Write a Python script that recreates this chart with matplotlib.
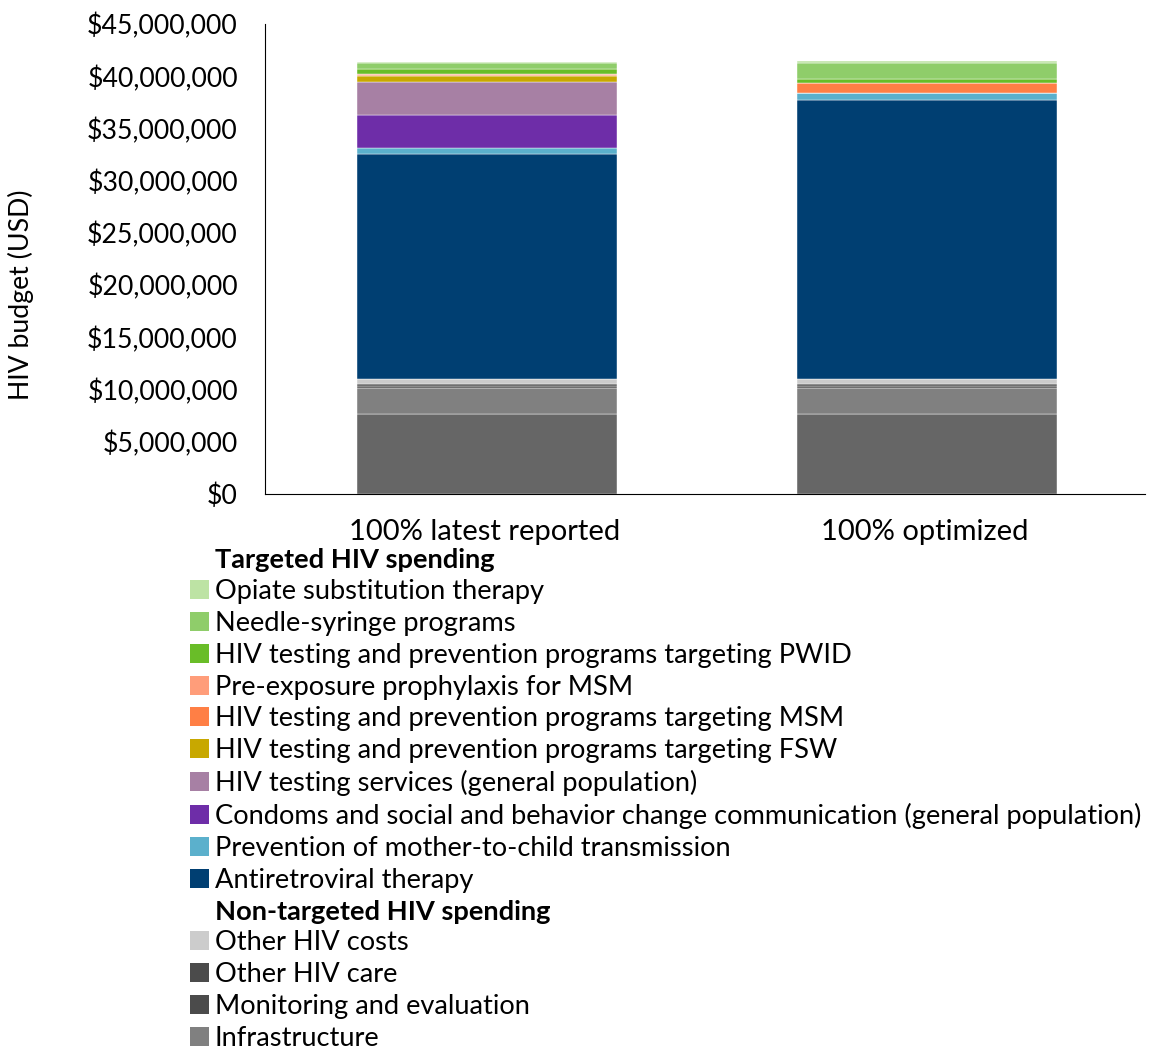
import matplotlib
matplotlib.use('Agg')
import matplotlib.pyplot as plt
from matplotlib.patches import Patch
from matplotlib.ticker import FuncFormatter
import numpy as np

plt.rcParams['font.family'] = ['Lato', 'DejaVu Sans']

scenarios = ['100% latest reported', '100% optimized']

# stacked bottom -> top, values in USD
series = [
    'Management',
    'Infrastructure',
    'Monitoring and evaluation',
    'Other HIV care',
    'Other HIV costs',
    'Antiretroviral therapy',
    'Prevention of mother-to-child transmission',
    'Condoms and social and behavior change communication (general population)',
    'HIV testing services (general population)',
    'HIV testing and prevention programs targeting FSW',
    'HIV testing and prevention programs targeting MSM',
    'Pre-exposure prophylaxis for MSM',
    'HIV testing and prevention programs targeting PWID',
    'Needle-syringe programs',
    'Opiate substitution therapy',
]
latest = [7.63e6, 2.49e6, 0.21e6, 0.20e6, 0.51e6, 21.5e6, 0.61e6, 3.13e6,
          3.19e6, 0.55e6, 0.12e6, 0.07e6, 0.51e6, 0.51e6, 0.10e6]
optimized = [7.63e6, 2.49e6, 0.21e6, 0.20e6, 0.51e6, 26.7e6, 0.61e6, 0.0,
             0.0, 0.0, 0.96e6, 0.0, 0.45e6, 1.53e6, 0.13e6]
colors = ['#666666', '#808080', '#4b4b4b', '#4b4b4b', '#cccccc', '#003f72',
          '#5bb0cc', '#6e2da8', '#a780a4', '#c8a800', '#ff7f45', '#ff9d7a',
          '#69bd28', '#8fcd6a', '#bde3a4']

targeted = series[5:][::-1]
non_targeted = ['Other HIV costs', 'Other HIV care', 'Monitoring and evaluation', 'Infrastructure']

fig = plt.figure(figsize=(11.54, 10.53), dpi=100)
ax = fig.add_axes([0.2296, 0.5309, 0.7624, 0.4463])

x = np.arange(len(scenarios))
bottom = np.zeros(len(scenarios))
for name, a, b, c in zip(series, latest, optimized, colors):
    vals = np.array([a, b])
    ax.bar(x + 0.005, vals, 0.59, bottom=bottom, color=c, edgecolor='white', linewidth=0.3)
    bottom += vals

ax.set_xlim(-0.5, 1.5)
ax.set_ylim(0, 45e6)
ax.set_yticks(np.arange(0, 45e6 + 1, 5e6))
ax.yaxis.set_major_formatter(FuncFormatter(lambda v, p: '${:,.0f}'.format(v)))
ax.set_xticks(x)
ax.set_xticklabels(scenarios, fontsize=21)
ax.tick_params(axis='y', labelsize=19.2, length=0, pad=19.5)
ax.tick_params(axis='x', length=0, pad=18)
ax.spines['top'].set_visible(False)
ax.spines['right'].set_visible(False)
ax.set_ylabel('HIV budget (USD)', fontsize=19.2)
ax.yaxis.set_label_coords(-0.2625, 0.423)

cmap = dict(zip(series, colors))
blank = Patch(facecolor='none', edgecolor='none')
handles = [blank] + [Patch(facecolor=cmap[n]) for n in targeted] + \
          [blank] + [Patch(facecolor=cmap[n]) for n in non_targeted]
labels = ['Targeted HIV spending'] + targeted + ['Non-targeted HIV spending'] + non_targeted
leg = fig.legend(handles, labels, loc='upper left', bbox_to_anchor=(0.1555, 0.4895),
                 frameon=False, fontsize=19.6, handlelength=0.7, handleheight=0.7,
                 handletextpad=0.2, labelspacing=0.25, borderaxespad=0)
for t in leg.get_texts():
    if t.get_text().endswith('HIV spending'):
        t.set_fontweight('bold')

fig.savefig('out.png', dpi=100)
